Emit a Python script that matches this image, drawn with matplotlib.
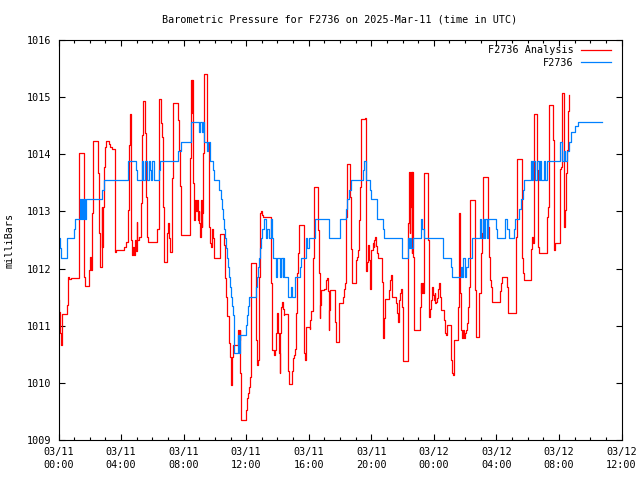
import matplotlib
matplotlib.use("Agg")
import matplotlib.pyplot as plt
from matplotlib.ticker import MultipleLocator

# hours since 2025-03-11 00:00 UTC
blue_t = [0.00, 0.10, 0.16, 0.52, 0.56, 0.97, 1.08, 1.37, 1.44, 1.50, 1.57, 1.65, 1.69, 1.78,
          2.78, 2.91, 4.46, 4.95, 5.04, 5.34, 5.42, 5.53, 5.64, 5.76, 5.83, 5.91, 6.00, 6.08,
          6.40, 6.49, 7.66, 7.83, 8.49, 9.00, 9.07, 9.15, 9.22, 9.28, 9.52, 9.58, 9.69, 9.86,
          9.96, 10.26, 10.39, 10.47, 10.54, 10.60, 10.67, 10.73, 10.80, 10.86, 10.92, 10.99,
          11.05, 11.11, 11.18, 11.22, 11.24, 11.46, 11.52, 11.58, 11.97, 12.03, 12.09, 12.16,
          12.61, 12.71, 12.78, 12.84, 12.88, 12.95, 13.01, 13.14, 13.27, 13.35, 13.44, 13.57,
          13.65, 13.74, 13.91, 13.97, 14.16, 14.23, 14.33, 14.38, 14.44, 14.67, 14.89, 14.95,
          15.10, 15.42, 15.53, 15.80, 15.91, 16.04, 16.40, 17.30, 18.00, 18.40, 18.47, 18.60,
          18.70, 19.47, 19.55, 19.64, 19.92, 20.00, 20.39, 20.75, 20.83, 21.98, 22.35, 22.41,
          22.47, 22.56, 22.64, 23.16, 23.26, 23.35, 24.56, 25.07, 25.16, 25.71, 25.80, 25.88,
          25.97, 26.05, 26.18, 26.44, 26.95, 27.04, 27.12, 27.21, 27.29, 27.38, 27.46, 27.95,
          28.04, 28.57, 28.70, 28.80, 29.10, 29.17, 29.46, 29.55, 29.70, 29.78, 30.19, 30.27,
          30.36, 30.49, 30.57, 30.70, 30.79, 30.87, 31.04, 31.13, 31.26, 32.09, 32.19, 32.30,
          32.41, 32.51, 32.62, 32.79, 33.05, 33.22, 34.75]
blue_v = [1012.53, 1012.36, 1012.19, 1012.36, 1012.53, 1012.70, 1012.87, 1013.21, 1012.87, 1013.21,
          1012.87, 1013.21, 1012.87, 1013.21, 1013.38, 1013.55, 1013.89, 1013.72, 1013.55, 1013.89,
          1013.55, 1013.89, 1013.55, 1013.89, 1013.72, 1013.55, 1013.89, 1013.55, 1013.72, 1013.89,
          1014.05, 1014.22, 1014.56, 1014.39, 1014.56, 1014.39, 1014.56, 1014.22, 1014.05, 1014.22,
          1013.89, 1013.72, 1013.55, 1013.38, 1013.21, 1013.04, 1012.87, 1012.70, 1012.53, 1012.36,
          1012.19, 1012.02, 1011.85, 1011.68, 1011.51, 1011.34, 1011.18, 1010.84, 1010.52, 1010.84,
          1010.52, 1010.84, 1011.01, 1011.18, 1011.34, 1011.51, 1011.68, 1011.85, 1012.02, 1012.19,
          1012.36, 1012.53, 1012.70, 1012.87, 1012.53, 1012.70, 1012.53, 1012.87, 1012.53, 1012.19,
          1011.85, 1012.19, 1011.85, 1012.19, 1011.85, 1012.19, 1011.85, 1011.51, 1011.68, 1011.51,
          1011.85, 1012.02, 1012.19, 1012.53, 1012.36, 1012.53, 1012.87, 1012.53, 1012.87, 1013.04,
          1013.21, 1013.38, 1013.55, 1013.72, 1013.89, 1013.55, 1013.38, 1013.21, 1012.87, 1012.70,
          1012.53, 1012.19, 1012.53, 1012.36, 1012.53, 1012.36, 1012.53, 1012.87, 1012.70, 1012.53,
          1012.19, 1012.02, 1011.85, 1012.02, 1011.85, 1012.19, 1011.85, 1012.02, 1012.19, 1012.53,
          1012.87, 1012.53, 1012.87, 1012.53, 1012.87, 1012.53, 1012.87, 1012.70, 1012.53, 1012.87,
          1012.70, 1012.53, 1012.70, 1012.87, 1013.04, 1013.21, 1013.38, 1013.55, 1013.89, 1013.55,
          1013.89, 1013.55, 1013.89, 1013.55, 1013.89, 1013.55, 1013.89, 1013.55, 1013.89, 1014.22,
          1013.89, 1014.05, 1013.89, 1014.05, 1014.22, 1014.39, 1014.50, 1014.56, 1014.56]

red_t = [0.00, 0.05, 0.10, 0.16, 0.20, 0.24, 0.54, 0.59, 0.63, 0.69, 0.80, 1.33, 1.61, 1.72, 1.97,
         2.04, 2.08, 2.12, 2.16, 2.21, 2.55, 2.61, 2.67, 2.76, 2.80, 2.87, 2.93, 3.00, 3.04, 3.25,
         3.31, 3.42, 3.59, 3.63, 3.70, 3.89, 4.21, 4.29, 4.44, 4.51, 4.57, 4.61, 4.70, 4.76, 4.83,
         4.89, 4.95, 4.99, 5.04, 5.13, 5.25, 5.34, 5.42, 5.55, 5.59, 5.64, 5.72, 6.28, 6.32, 6.45,
         6.53, 6.60, 6.66, 6.72, 6.77, 6.94, 7.00, 7.06, 7.11, 7.28, 7.32, 7.62, 7.68, 7.75, 7.81,
         7.85, 8.43, 8.47, 8.51, 8.56, 8.60, 8.64, 8.69, 8.73, 8.77, 8.83, 8.90, 8.96, 9.00, 9.05,
         9.11, 9.15, 9.20, 9.26, 9.32, 9.52, 9.60, 9.64, 9.69, 9.73, 9.79, 9.84, 9.88, 9.92, 10.30,
         10.56, 10.62, 10.69, 10.77, 10.88, 10.97, 11.01, 11.05, 11.09, 11.16, 11.50, 11.54, 11.58,
         11.63, 11.67, 11.99, 12.03, 12.10, 12.16, 12.22, 12.29, 12.61, 12.65, 12.69, 12.73, 12.80,
         12.86, 12.93, 13.01, 13.10, 13.57, 13.61, 13.65, 13.78, 13.84, 13.91, 13.97, 14.03, 14.08,
         14.14, 14.18, 14.25, 14.31, 14.35, 14.40, 14.42, 14.65, 14.70, 14.76, 14.91, 14.97, 15.06,
         15.14, 15.21, 15.27, 15.31, 15.38, 15.68, 15.72, 15.76, 15.80, 15.85, 16.06, 16.10, 16.17,
         16.25, 16.31, 16.36, 16.59, 16.63, 16.70, 16.74, 16.78, 17.00, 17.08, 17.12, 17.17, 17.21,
         17.27, 17.32, 17.36, 17.68, 17.72, 17.76, 17.91, 17.96, 18.17, 18.25, 18.30, 18.36, 18.40,
         18.45, 18.64, 18.68, 18.75, 18.79, 19.00, 19.09, 19.15, 19.21, 19.28, 19.34, 19.58, 19.64,
         19.68, 19.72, 19.79, 19.85, 19.90, 19.94, 19.98, 20.09, 20.15, 20.19, 20.24, 20.28, 20.34,
         20.41, 20.68, 20.73, 20.77, 20.81, 20.85, 21.15, 21.22, 21.26, 21.30, 21.35, 21.60, 21.64,
         21.71, 21.75, 21.83, 21.90, 21.96, 22.03, 22.33, 22.37, 22.41, 22.45, 22.50, 22.54, 22.58,
         22.62, 22.67, 22.71, 22.75, 23.11, 23.16, 23.20, 23.24, 23.28, 23.35, 23.60, 23.65, 23.69,
         23.73, 23.80, 23.84, 23.90, 23.97, 24.01, 24.05, 24.09, 24.16, 24.22, 24.26, 24.33, 24.37,
         24.43, 24.48, 24.63, 24.69, 24.73, 24.80, 24.84, 25.07, 25.12, 25.16, 25.22, 25.27, 25.31,
         25.56, 25.61, 25.65, 25.69, 25.74, 25.80, 25.86, 25.93, 25.97, 26.03, 26.10, 26.16, 26.23,
         26.29, 26.63, 26.67, 26.72, 26.89, 27.04, 27.10, 27.14, 27.44, 27.48, 27.52, 27.57, 27.65,
         27.72, 28.23, 28.29, 28.36, 28.65, 28.72, 28.76, 29.27, 29.32, 29.61, 29.66, 29.70, 29.74,
         30.19, 30.23, 30.30, 30.34, 30.38, 30.62, 30.68, 30.72, 31.26, 31.30, 31.34, 31.62, 31.66,
         31.70, 31.74, 32.09, 32.13, 32.17, 32.30, 32.34, 32.38, 32.43, 32.49, 32.56, 32.60, 32.64,
         32.66]
red_v = [1011.45, 1011.24, 1010.87, 1010.66, 1010.98, 1011.20, 1011.36, 1011.68, 1011.85, 1011.82,
         1011.84, 1014.02, 1011.86, 1011.70, 1011.97, 1012.20, 1011.97, 1012.20, 1012.97, 1014.23,
         1013.68, 1012.62, 1012.02, 1013.08, 1012.38, 1013.08, 1013.78, 1014.13, 1014.23, 1014.18,
         1014.13, 1014.10, 1013.20, 1012.29, 1012.32, 1012.32, 1012.38, 1012.47, 1013.02, 1014.16,
         1014.70, 1012.50, 1012.24, 1012.38, 1012.24, 1012.50, 1012.30, 1012.82, 1012.50, 1012.56,
         1013.14, 1014.34, 1014.93, 1014.37, 1013.26, 1012.56, 1012.47, 1012.59, 1012.70, 1014.96,
         1014.54, 1014.31, 1013.08, 1012.29, 1012.12, 1012.62, 1012.79, 1012.53, 1012.29, 1013.58,
         1014.89, 1014.60, 1014.07, 1013.45, 1012.87, 1012.59, 1013.93, 1015.30, 1014.72, 1015.30,
         1013.49, 1013.20, 1012.85, 1013.20, 1013.00, 1013.20, 1012.85, 1013.00, 1012.79, 1012.56,
         1013.20, 1012.73, 1012.97, 1014.02, 1015.40, 1014.19, 1014.07, 1012.73, 1012.44, 1012.38,
         1012.47, 1012.70, 1012.53, 1012.18, 1012.60, 1012.41, 1011.83, 1011.50, 1011.17, 1010.69,
         1010.46, 1010.17, 1009.97, 1010.46, 1010.67, 1010.92, 1010.75, 1010.92, 1010.17, 1009.35,
         1009.52, 1009.73, 1009.82, 1009.93, 1010.11, 1012.09, 1011.39, 1010.75, 1010.31, 1010.40,
         1011.86, 1012.97, 1013.00, 1012.94, 1012.91, 1012.50, 1011.74, 1010.57, 1010.49, 1010.57,
         1010.87, 1011.22, 1010.87, 1010.52, 1010.17, 1010.87, 1011.33, 1011.42, 1011.30, 1011.19,
         1011.20, 1010.78, 1010.20, 1009.98, 1010.20, 1010.43, 1010.49, 1010.60, 1011.22, 1011.92,
         1012.27, 1012.77, 1011.45, 1010.52, 1010.40, 1010.69, 1010.98, 1010.95, 1011.10, 1011.25,
         1012.18, 1012.65, 1013.42, 1012.67, 1011.92, 1011.13, 1011.36, 1011.62, 1011.65, 1011.68,
         1011.80, 1011.83, 1011.60, 1010.92, 1011.27, 1011.62, 1011.07, 1010.92, 1010.72, 1011.04,
         1011.40, 1011.51, 1011.65, 1011.74, 1012.38, 1012.91, 1013.83, 1013.26, 1012.35, 1011.83,
         1011.74, 1012.15, 1012.21, 1012.32, 1012.85, 1013.43, 1014.61, 1014.63, 1012.62, 1011.95,
         1012.12, 1012.41, 1012.15, 1011.89, 1011.65, 1012.32, 1012.44, 1012.38, 1012.50, 1012.56,
         1012.39, 1012.27, 1012.18, 1011.77, 1011.19, 1010.78, 1011.13, 1011.46, 1011.62, 1011.80,
         1011.89, 1011.62, 1011.51, 1011.39, 1011.22, 1011.07, 1011.45, 1011.57, 1011.64, 1011.33,
         1010.39, 1010.87, 1012.79, 1013.69, 1012.62, 1013.08, 1013.69, 1012.27, 1013.69, 1012.21,
         1011.33, 1010.92, 1011.33, 1011.74, 1011.57, 1011.74, 1011.57, 1013.67, 1013.52, 1012.50,
         1011.16, 1011.30, 1011.33, 1011.45, 1011.68, 1011.54, 1011.45, 1011.57, 1011.39, 1011.42,
         1011.48, 1011.65, 1011.74, 1011.51, 1011.39, 1011.27, 1011.10, 1010.92, 1010.87, 1010.84,
         1011.01, 1010.75, 1010.40, 1010.17, 1010.14, 1010.46, 1010.75, 1011.33, 1012.97, 1012.38,
         1011.57, 1010.92, 1010.78, 1010.92, 1010.78, 1010.87, 1010.92, 1011.04, 1011.33, 1011.68,
         1013.20, 1011.62, 1010.87, 1010.81, 1011.57, 1012.27, 1012.62, 1013.61, 1013.49, 1012.73,
         1012.21, 1011.80, 1011.68, 1011.42, 1011.60, 1011.74, 1011.86, 1011.68, 1011.51, 1011.22,
         1012.56, 1013.91, 1013.11, 1012.18, 1011.92, 1011.80, 1011.97, 1012.35, 1012.56, 1012.44,
         1014.70, 1013.72, 1012.38, 1012.27, 1012.91, 1013.08, 1014.86, 1014.25, 1012.97, 1012.32,
         1012.44, 1013.75, 1013.78, 1015.08, 1013.08, 1012.73, 1013.02, 1013.67, 1014.07, 1014.19,
         1014.75, 1015.04, 1015.04]

x_ticks = [0, 4, 8, 12, 16, 20, 24, 28, 32, 36]
x_labels = ["03/11\n00:00", "03/11\n04:00", "03/11\n08:00", "03/11\n12:00", "03/11\n16:00",
            "03/11\n20:00", "03/12\n00:00", "03/12\n04:00", "03/12\n08:00", "03/12\n12:00"]
y_ticks = [1009, 1010, 1011, 1012, 1013, 1014, 1015, 1016]

title = "Barometric Pressure for F2736 on 2025-Mar-11 (time in UTC)"
red_label = "F2736 Analysis"
blue_label = "F2736"

FONT = "DejaVu Sans Mono"
FS = 7.3

fig = plt.figure(figsize=(6.4, 4.8), dpi=100)
ax = fig.add_axes([58.5 / 640, 40 / 480, 563 / 640, 400 / 480])

ax.plot(red_t, red_v, drawstyle="steps-post", color="#ff0000", lw=0.9, label=red_label)
ax.plot(blue_t, blue_v, drawstyle="steps-post", color="#0080ff", lw=0.9, label=blue_label)

ax.set_xlim(0, 36)
ax.set_ylim(1009, 1016)
ax.set_xticks(x_ticks)
ax.set_xticklabels(x_labels, fontfamily=FONT, fontsize=FS, linespacing=1.35)
ax.xaxis.set_minor_locator(MultipleLocator(1))
ax.set_yticks(y_ticks)
ax.set_yticklabels([str(v) for v in y_ticks], fontfamily=FONT, fontsize=FS)

ax.tick_params(axis="both", which="both", direction="in", top=True, right=True, width=0.8)
ax.tick_params(axis="x", which="major", length=4.5, pad=5)
ax.tick_params(axis="x", which="minor", length=2.5)
ax.tick_params(axis="y", which="major", length=4.5, pad=5)
for s in ax.spines.values():
    s.set_linewidth(0.8)

ax.set_ylabel("milliBars", fontfamily=FONT, fontsize=FS, labelpad=9)
fig.text(340 / 640, 1 - 19 / 480, title, ha="center", va="center", fontfamily=FONT, fontsize=FS)

leg = ax.legend(loc="upper right", bbox_to_anchor=(1 - 4 / 563, 1 + 1 / 400), frameon=False,
                markerfirst=False, handlelength=3.0, handletextpad=0.7, labelspacing=0.25,
                borderaxespad=0.2, prop={"family": FONT, "size": FS})
for t in leg.get_texts():
    t.set_ha("right")

fig.savefig("out.png", dpi=100)
